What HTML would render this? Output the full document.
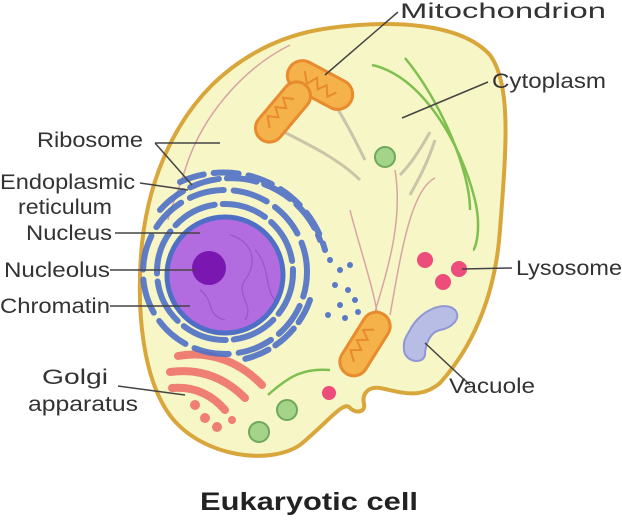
<!DOCTYPE html>
<html><head><meta charset="utf-8"><style>
html,body{margin:0;padding:0;background:#fff;}
svg{display:block}
text{font-family:"Liberation Sans",sans-serif;fill:#333;font-size:21px}
</style></head><body>
<svg width="622" height="528" viewBox="0 0 622 528" xmlns="http://www.w3.org/2000/svg">
<path d="M330,28 C390,20 460,22 490,55 C512,85 506,150 500,230 C495,300 470,350 440,383 C420,400 400,392 380,388 C366,386 362,396 364,404 C366,412 356,414 350,408 C344,400 330,420 300,445 C270,465 205,458 172,418 C142,380 137,310 141,255 C146,185 172,125 212,85 C248,50 290,33 330,28 Z" fill="#f6f6c6" stroke="#d9a63c" stroke-width="4"/>
<path d="M290,45 C240,70 200,120 185,170 C175,200 170,210 168,220" fill="none" stroke="#d9a3a3" stroke-width="1.5"/>
<g fill="none" stroke-width="2.5">
<path d="M372,65 C420,75 460,140 475,200 C482,230 475,250 473,250" stroke="#7fbf4f"/>
<path d="M405,58 C440,100 470,170 470,210" stroke="#7fbf4f"/>
<path d="M280,130 C310,145 340,160 360,180" stroke="#ccc4a8" stroke-width="3"/>
<path d="M335,105 C345,120 355,140 365,160" stroke="#ccc4a8" stroke-width="3"/>
<path d="M430,132 C420,150 410,165 400,175" stroke="#ccc4a8" stroke-width="3"/>
<path d="M435,140 C425,170 415,185 410,195" stroke="#ccc4a8" stroke-width="3"/>
<path d="M395,170 C405,230 380,290 370,330" stroke="#d9a3a3" stroke-width="1.5"/>
<path d="M435,178 C410,190 400,260 390,315" stroke="#d9a3a3" stroke-width="1.5"/>
<path d="M350,210 C360,250 375,290 380,330" stroke="#d9a3a3" stroke-width="1.5"/>
<path d="M268,395 C290,375 305,368 330,370" stroke="#7fbf4f"/>
</g>
<g stroke="#e88a2e" stroke-width="3" fill="#f5b14a">
<rect x="285" y="70" width="70" height="30" rx="15" transform="rotate(28 320 85)"/>
<rect x="248" y="98" width="70" height="28" rx="14" transform="rotate(-50 283 112)"/>
<rect x="330" y="330" width="70" height="28" rx="14" transform="rotate(-58 365 344)"/>
</g>
<g stroke="#e88a2e" stroke-width="2" fill="none">
<path d="M300,80 l8,10 l6,-10 l6,10 l6,-8 l6,10 l6,-8" transform="rotate(28 320 85)"/>
<path d="M262,112 l8,-9 l6,9 l6,-9 l6,9 l6,-9 l6,9" transform="rotate(-50 283 112)"/>
<path d="M344,344 l8,-9 l6,9 l6,-9 l6,9 l6,-9 l6,9" transform="rotate(-58 365 344)"/>
</g>
<g fill="#a4d48a" stroke="#6fa85a" stroke-width="2">
<circle cx="385" cy="157" r="10"/>
<circle cx="287" cy="410" r="10"/>
<circle cx="259" cy="432" r="10"/>
</g>
<g fill="#ec4d7a">
<circle cx="425" cy="260" r="8"/><circle cx="459" cy="269" r="8"/><circle cx="443" cy="282" r="8"/>
<circle cx="329" cy="393" r="7"/>
</g>
<path d="M410,330 C420,310 445,300 455,310 C462,318 452,328 440,330 C430,332 425,345 425,355 C423,365 405,362 404,350 C403,342 405,338 410,330 Z" fill="#b8bde6" stroke="#8f97d4" stroke-width="2"/>
<g fill="none" stroke="#ef7f72" stroke-width="8" stroke-linecap="round">
<path d="M178,356 C210,350 240,362 262,385"/>
<path d="M170,372 C200,368 225,378 245,398"/>
<path d="M172,388 C195,386 212,395 225,410"/>
</g>
<g fill="#ef7f72"><circle cx="195" cy="405" r="5"/><circle cx="205" cy="418" r="5"/><circle cx="217" cy="427" r="5"/><circle cx="232" cy="420" r="4"/></g>
<g fill="none" stroke="#4f6fc6" stroke-width="6" stroke-linecap="round" opacity="0.9">
<circle cx="225" cy="272" r="68" stroke-dasharray="45 8"/>
<circle cx="225" cy="272" r="82" stroke-dasharray="35 10" stroke-dashoffset="10"/>
<path d="M160,210 A95,95 0 0 1 320,240" stroke-dasharray="30 8"/>
<path d="M180,182 A105,105 0 0 1 325,250" stroke-dasharray="25 10"/>
<path d="M310,300 A92,92 0 0 1 240,360" stroke-dasharray="25 8"/>
</g>
<g fill="#5a78c8">
<circle cx="330" cy="260" r="3"/><circle cx="340" cy="270" r="3"/><circle cx="350" cy="265" r="3"/><circle cx="335" cy="285" r="3"/><circle cx="348" cy="290" r="3"/><circle cx="340" cy="305" r="3"/><circle cx="355" cy="300" r="3"/><circle cx="328" cy="315" r="3"/><circle cx="345" cy="318" r="3"/><circle cx="358" cy="312" r="3"/>
</g>
<circle cx="225" cy="275" r="58" fill="#b36be0" stroke="#4f6fc6" stroke-width="5"/>
<g fill="none" stroke="#9a55c8" stroke-width="1.2">
<path d="M230,235 C250,240 260,260 245,280 C235,295 255,305 245,320"/>
<path d="M200,290 C215,300 205,315 225,320"/>
<path d="M255,250 C270,265 265,290 275,300"/>
</g>
<circle cx="209" cy="268" r="17" fill="#7a17b0"/>
<g stroke="#444" stroke-width="1.5" fill="none">
<path d="M155,143 L220,143"/><path d="M155,143 L192,185"/>
<path d="M140,183 L188,190"/>
<path d="M115,233 L200,233"/>
<path d="M110,270 L195,270"/>
<path d="M110,306 L190,306"/>
<path d="M118,386 L185,395"/>
<path d="M398,12 L325,75"/>
<path d="M488,82 L402,118"/>
<path d="M512,268 L462,269"/>
<path d="M470,385 L425,343"/>
</g>
<text x="37" y="147" textLength="106" lengthAdjust="spacingAndGlyphs">Ribosome</text>
<text x="0" y="189" textLength="135" lengthAdjust="spacingAndGlyphs">Endoplasmic</text>
<text x="18" y="214" textLength="94" lengthAdjust="spacingAndGlyphs">reticulum</text>
<text x="26" y="240" textLength="86" lengthAdjust="spacingAndGlyphs">Nucleus</text>
<text x="4" y="277" textLength="106" lengthAdjust="spacingAndGlyphs">Nucleolus</text>
<text x="0" y="313" textLength="110" lengthAdjust="spacingAndGlyphs">Chromatin</text>
<text x="42" y="384" textLength="66" lengthAdjust="spacingAndGlyphs">Golgi</text>
<text x="28" y="411" textLength="110" lengthAdjust="spacingAndGlyphs">apparatus</text>
<text x="400" y="18" textLength="206" lengthAdjust="spacingAndGlyphs">Mitochondrion</text>
<text x="492" y="88" textLength="114" lengthAdjust="spacingAndGlyphs">Cytoplasm</text>
<text x="516" y="275" textLength="106" lengthAdjust="spacingAndGlyphs">Lysosome</text>
<text x="449" y="393" textLength="86" lengthAdjust="spacingAndGlyphs">Vacuole</text>
<text x="200" y="510" textLength="218" lengthAdjust="spacingAndGlyphs" style="font-weight:bold;font-size:25px;fill:#222">Eukaryotic cell</text>
</svg>
</body></html>
